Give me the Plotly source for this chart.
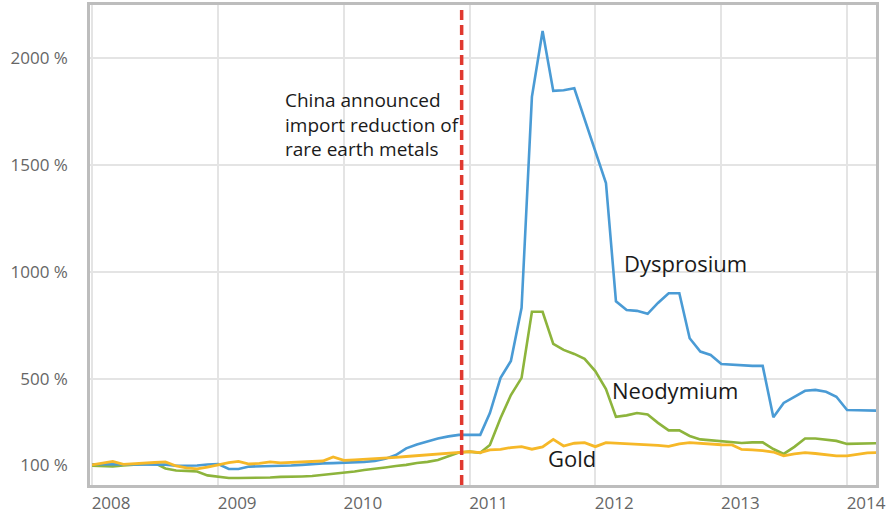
import pandas as pd
import plotly.graph_objects as go

# Monthly price index (start = 100 %)
months = pd.date_range("2008-01-01", periods=76, freq="MS")

dysprosium = [102, 102, 102, 102, 102, 102, 102, 100, 95, 94,
              96, 101, 103, 80, 80, 91, 92, 92, 94, 96,
              99, 103, 106, 107, 108, 110, 113, 117, 127, 145,
              176, 194, 208, 222, 232, 239, 239, 239, 341, 505,
              584, 832, 1817, 2125, 1845, 1848, 1857, 1710, 1569, 1415,
              863, 822, 818, 804, 855, 900, 900, 690, 628, 612,
              570, 566, 563, 561, 561, 321, 388, 417, 445, 449,
              440, 417, 355, 354, 353, 352]

neodymium = [95, 92, 92, 96, 99, 101, 107, 82, 73, 71,
             68, 50, 43, 38, 38, 38, 39, 40, 43, 43,
             45, 47, 52, 57, 64, 68, 75, 80, 87, 94,
             99, 108, 113, 122, 141, 157, 161, 155, 192, 318,
             425, 505, 814, 814, 664, 636, 617, 594, 537, 453,
             323, 330, 341, 334, 295, 260, 260, 234, 218, 213,
             211, 206, 201, 204, 204, 173, 150, 183, 222, 222,
             218, 211, 197, 199, 200, 200]

gold = [99, 108, 115, 101, 103, 106, 110, 113, 94, 85,
        80, 89, 101, 110, 115, 103, 106, 113, 108, 110,
        113, 115, 117, 136, 120, 122, 124, 127, 129, 134,
        138, 142, 145, 150, 153, 159, 161, 156, 169, 171,
        180, 184, 172, 183, 218, 187, 200, 203, 184, 203,
        201, 199, 197, 194, 190, 185, 197, 203, 199, 197,
        193, 192, 171, 169, 166, 159, 141, 150, 156, 152,
        145, 141, 141, 148, 155, 156]

announcement_date = "2010-12-09"
announcement_text = "China announced<br>import reduction of<br>rare earth metals"

year_ticks = [f"{y}-01-01" for y in range(2008, 2015)]
year_labels = [str(y) for y in range(2008, 2015)]
y_tickvals = [100, 500, 1000, 1500, 2000]
y_ticktext = [f"{v} %" for v in y_tickvals]
y_gridvals = [500, 1000, 1500, 2000]

FONT = "Open Sans"
GRID = "#e4e4e4"
FRAME = "#bdbdbd"
TEXT = "#1a1a1a"

fig = go.Figure()
fig.add_trace(go.Scatter(x=months, y=neodymium, mode="lines", name="Neodymium",
                         line=dict(color="#8db43c", width=2.6)))
fig.add_trace(go.Scatter(x=months, y=dysprosium, mode="lines", name="Dysprosium",
                         line=dict(color="#4a9bd5", width=2.6)))
fig.add_trace(go.Scatter(x=months, y=gold, mode="lines", name="Gold",
                         line=dict(color="#f6b828", width=2.8)))

fig.add_shape(type="line", xref="x", yref="paper",
              x0=announcement_date, x1=announcement_date, y0=0, y1=1,
              line=dict(color="#e0392f", width=3.5, dash="10px,5px"))

fig.add_annotation(text=announcement_text, xref="paper", yref="paper",
                   x=0.2455, y=0.752, xanchor="left", yanchor="middle",
                   align="left", showarrow=False,
                   font=dict(family=FONT, size=19, color=TEXT))

# Series name labels next to their curves
series_labels = [("Dysprosium", 0.7576, 0.4625),
                 ("Neodymium", 0.7443, 0.198),
                 ("Gold", 0.6132, 0.056)]
for name, lx, ly in series_labels:
    fig.add_annotation(text=name, xref="paper", yref="paper", x=lx, y=ly,
                       xanchor="center", yanchor="middle", showarrow=False,
                       font=dict(family=FONT, size=22, color=TEXT))

fig.update_xaxes(type="date", range=["2007-12-26", "2014-03-26"], automargin=False,
                 tickmode="array", tickvals=year_ticks, ticktext=year_labels,
                 ticks="", ticklabelshift=19, ticklabelstandoff=1,
                 tickfont=dict(family=FONT, size=17, color="#666666"),
                 showgrid=True, gridcolor=GRID, gridwidth=1.5, zeroline=False,
                 showline=True, mirror=True, linecolor=FRAME, linewidth=2.5)
fig.update_yaxes(range=[5, 2246], automargin=False,
                 tickmode="array", tickvals=y_tickvals, ticktext=y_ticktext,
                 ticks="", ticklabelstandoff=16,
                 tickfont=dict(family=FONT, size=17, color="#666666"),
                 showgrid=False, zeroline=False,
                 minor=dict(tickmode="array", tickvals=y_gridvals, showgrid=True,
                            gridcolor=GRID, gridwidth=1.5, ticks=""),
                 showline=True, mirror=True, linecolor=FRAME, linewidth=2.5)

fig.update_layout(width=894, height=515, showlegend=False,
                  margin=dict(l=90, r=18, t=5, b=30),
                  paper_bgcolor="white", plot_bgcolor="white",
                  font=dict(family=FONT))

fig.write_html("out.html")
